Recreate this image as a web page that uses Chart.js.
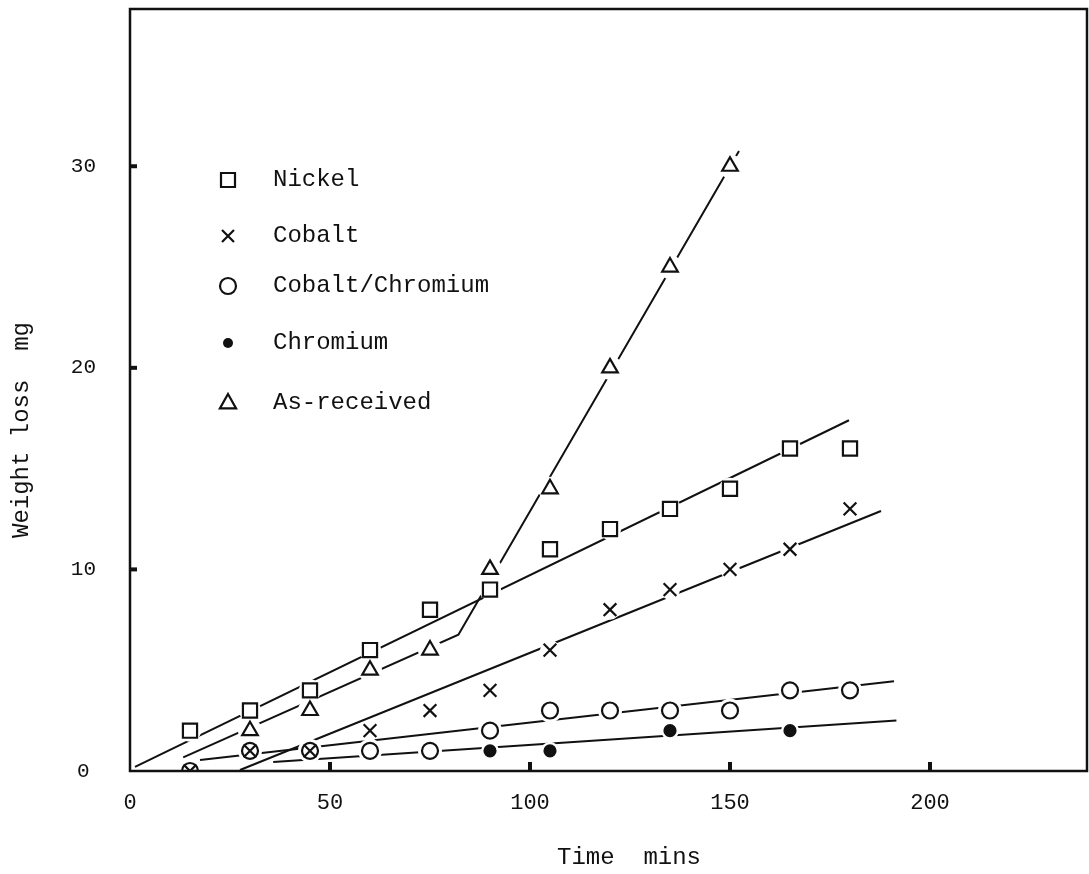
<!DOCTYPE html>
<html>
<head>
<meta charset="utf-8">
<title>Weight loss vs time</title>
<script src="https://cdn.jsdelivr.net/npm/chart.js@4.4.1/dist/chart.umd.min.js"></script>
<style>
    html, body { margin: 0; padding: 0; background: #fff; overflow: hidden; }
    canvas { display: block; }
</style>
</head>
<body>
<canvas id="chart-wear" width="1089" height="874"></canvas>
<script>
// --- DATA ---
// Sample times, minutes
const times = [15, 30, 45, 60, 75, 90, 105, 120, 135, 150, 165, 180];
const nickel = [2, 3, 4, 6, 8, 9, 11, 12, 13, 14, 16, 16];
const cobalt = [0, 1, 1, 2, 3, 4, 6, 8, 9, 10, 11, 13];
const cobaltChromium = [0, 1, 1, 1, 1, 2, 3, 3, 3, 3, 4, 4];

const chromiumTimes = [90, 105, 135, 165];
const chromium = [1, 1, 2, 2];

const asReceivedTimes = [30, 45, 60, 75, 90, 105, 120, 135, 150];
const asReceived = [2, 3, 5, 6, 10, 14, 20, 25, 30];

// Hand-drawn fit lines (end points, plus the kink of the as-received line)
const nickelFitT = [1.25, 179.75];
const nickelFitW = [0.2, 17.4];
const cobaltFitT = [27.5, 187.75];
const cobaltFitW = [0.05, 12.9];
const coCrFitT = [17.5, 191];
const coCrFitW = [0.55, 4.45];
const chromiumFitT = [35.8, 191.6];
const chromiumFitW = [0.45, 2.5];
const asReceivedFitT = [13.3, 82.1, 152.25];
const asReceivedFitW = [0.68, 6.76, 30.75];

// Axis ticks
const xTicks = [0, 50, 100, 150, 200];
const yTicks = [0, 10, 20, 30];

const legendLabels = ['Nickel', 'Cobalt', 'Cobalt/Chromium', 'Chromium', 'As-received'];

// --- UTILS ---
const INK = '#111';
const MONO = '"Liberation Mono", "DejaVu Sans Mono", monospace';
const pts = (xs, ys) => xs.map((x, i) => ({ x: x, y: ys[i] }));

function fitLine(xs, ys) {
    return {
        data: pts(xs, ys), showLine: true, pointRadius: 0, borderColor: INK,
        borderWidth: 2, tension: 0, fill: false, order: 30
    };
}

// white disc behind each marker so the fit lines stop short of it
function halo(xs, ys, r) {
    return {
        data: pts(xs, ys), showLine: false, pointStyle: 'circle', pointRadius: r,
        pointBackgroundColor: '#fff', pointBorderWidth: 0, order: 20
    };
}

function marker(xs, ys, style, r, fill, order) {
    return {
        data: pts(xs, ys), showLine: false, pointStyle: style, pointRadius: r,
        pointBackgroundColor: fill, pointBorderColor: INK, pointBorderWidth: 2.2, order: order
    };
}

// small marker painter for the legend
function drawMarker(ctx, style, x, y, r) {
    ctx.save();
    ctx.lineWidth = 2.2;
    ctx.strokeStyle = INK;
    ctx.fillStyle = '#fff';
    ctx.beginPath();
    if (style === 'rect') {
        ctx.rect(x - r, y - r, 2 * r, 2 * r);
        ctx.fill(); ctx.stroke();
    } else if (style === 'crossRot') {
        ctx.moveTo(x - r, y - r); ctx.lineTo(x + r, y + r);
        ctx.moveTo(x + r, y - r); ctx.lineTo(x - r, y + r);
        ctx.stroke();
    } else if (style === 'circle') {
        ctx.arc(x, y, r, 0, Math.PI * 2);
        ctx.fill(); ctx.stroke();
    } else if (style === 'dot') {
        ctx.fillStyle = INK;
        ctx.arc(x, y, r, 0, Math.PI * 2);
        ctx.fill();
    } else if (style === 'triangle') {
        ctx.moveTo(x, y - r);
        ctx.lineTo(x + r * 0.9, y + r * 0.6);
        ctx.lineTo(x - r * 0.9, y + r * 0.6);
        ctx.closePath();
        ctx.fill(); ctx.stroke();
    }
    ctx.restore();
}

// frame, inward tick stubs, legend and axis titles
const paperPlugin = {
    id: 'paper',
    afterDraw(chart) {
        const ctx = chart.ctx;
        const area = chart.chartArea;
        const sx = chart.scales.x, sy = chart.scales.y;

        ctx.save();
        ctx.strokeStyle = INK;
        ctx.lineWidth = 2.5;
        ctx.strokeRect(area.left, area.top, area.right - area.left, area.bottom - area.top);

        ctx.fillStyle = INK;
        xTicks.filter(v => v > 0).forEach(v => {
            const px = sx.getPixelForValue(v);
            ctx.fillRect(px - 2, area.bottom - 9, 4, 9);
        });
        yTicks.filter(v => v > 0).forEach(v => {
            const py = sy.getPixelForValue(v);
            ctx.fillRect(area.left, py - 2, 7, 4);
        });

        // legend
        const styles = [['rect', 7], ['crossRot', 6], ['circle', 8], ['dot', 5], ['triangle', 9]];
        const rows = [180, 236, 286, 343, 403];
        ctx.font = '24px ' + MONO;
        ctx.textBaseline = 'middle';
        ctx.textAlign = 'left';
        legendLabels.forEach((label, i) => {
            drawMarker(ctx, styles[i][0], 228, rows[i], styles[i][1]);
            ctx.fillStyle = INK;
            ctx.fillText(label, 273, rows[i]);
        });

        // axis titles
        ctx.textAlign = 'center';
        ctx.fillText('Time  mins', 629, 858);
        ctx.translate(22, 430);
        ctx.rotate(-Math.PI / 2);
        ctx.fillText('Weight loss  mg', 0, 0);
        ctx.restore();
    }
};

// --- CHART ---
const ctx = document.getElementById('chart-wear').getContext('2d');

new Chart(ctx, {
    type: 'scatter',
    data: {
        datasets: [
            fitLine(nickelFitT, nickelFitW),
            fitLine(cobaltFitT, cobaltFitW),
            fitLine(coCrFitT, coCrFitW),
            fitLine(chromiumFitT, chromiumFitW),
            fitLine(asReceivedFitT, asReceivedFitW),

            halo(times, nickel, 11),
            halo(times, cobalt, 10),
            halo(times, cobaltChromium, 12),
            halo(chromiumTimes, chromium, 9),
            halo(asReceivedTimes, asReceived, 12),

            marker(times, cobaltChromium, 'circle', 8, '#fff', 12),
            marker(times, nickel, 'rect', 10, '#fff', 11),
            marker(chromiumTimes, chromium, 'circle', 5.5, INK, 11),
            marker(asReceivedTimes, asReceived, 'triangle', 9, '#fff', 11),
            marker(times, cobalt, 'crossRot', 9, '#fff', 10)
        ]
    },
    options: {
        responsive: false,
        animation: false,
        layout: { autoPadding: false, padding: { top: 9, right: 2, left: 0, bottom: 0 } },
        plugins: {
            legend: { display: false },
            tooltip: { enabled: false }
        },
        scales: {
            x: {
                type: 'linear',
                min: 0,
                max: 239.25,
                grid: { display: false, drawTicks: false },
                border: { display: false },
                ticks: {
                    stepSize: 50,
                    includeBounds: false,
                    padding: 19,
                    maxRotation: 0,
                    color: INK,
                    font: { family: MONO, size: 22 }
                },
                afterFit: (scale) => {
                    scale.height = 103;
                    scale.paddingLeft = 0;
                    scale.paddingRight = 0;
                }
            },
            y: {
                type: 'linear',
                min: 0,
                max: 37.8,
                grid: { display: false, drawTicks: false },
                border: { display: false },
                ticks: {
                    stepSize: 10,
                    includeBounds: false,
                    padding: 34,
                    crossAlign: 'center',
                    color: INK,
                    font: { family: MONO, size: 21 }
                },
                afterFit: (scale) => {
                    scale.width = 130;
                    scale.paddingTop = 0;
                    scale.paddingBottom = 0;
                }
            }
        }
    },
    plugins: [paperPlugin]
});
</script>
</body>
</html>
